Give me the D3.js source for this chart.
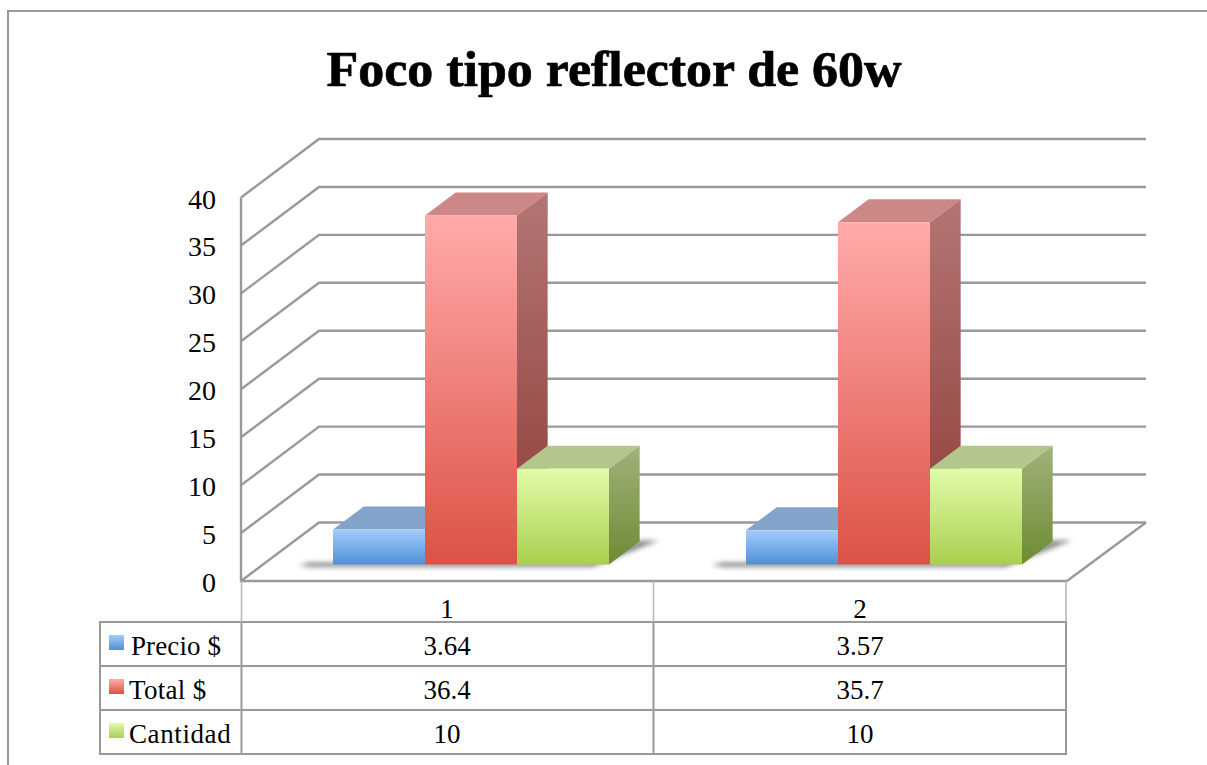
<!DOCTYPE html>
<html><head><meta charset="utf-8">
<script src="https://cdn.jsdelivr.net/npm/d3@7"></script>
<style>html,body{margin:0;padding:0;background:#fff}svg{display:block}text{font-family:"Liberation Serif",serif;fill:#000}</style>
</head><body><svg id="c" width="1207" height="765"></svg>
<script>
const title = "Foco tipo reflector de 60w";
const categories = ["1","2"];
const seriesNames = ["Precio $","Total $","Cantidad"];
const precio = [3.64,3.57];
const total = [36.4,35.7];
const cantidad = [10,10];
const tableText = [["3.64","3.57"],["36.4","35.7"],["10","10"]];
const yTicks = [0,5,10,15,20,25,30,35,40];
const front = ["#a4cbfc","#ffabaa","#e1fcaa"], frontB = ["#4f90d5","#dc5246","#a9cf4f"];
const topC = ["#84a3cb","#cc8886","#b3c68c"];
const sideT = ["#84a3cb","#b27675","#a0b27c"], sideB = ["#3f6f9e","#8f3b36","#6e8b33"];
const grid = "#999999";

const svg = d3.select("#c");
const defs = svg.append("defs");
const y = d3.scaleLinear().domain([0,40]).range([581,197.5]);
const x = d3.scaleBand().domain(categories).range([241,1067]);
const DX=78, DY=-58.5;
const P=(px,v,d)=>[px+DX*d, y(v)+DY*d];
const poly=(pts)=>d3.line()(pts)+"Z";
const vals=[precio,total,cantidad];

defs.append("filter").attr("id","blur").attr("x","-20%").attr("y","-50%").attr("width","140%").attr("height","200%")
  .append("feGaussianBlur").attr("stdDeviation",2.4);
seriesNames.forEach((s,i)=>{
  const g=defs.append("linearGradient").attr("id","f"+i).attr("x1",0).attr("x2",0).attr("y1",0).attr("y2",1);
  g.append("stop").attr("offset",0).attr("stop-color",front[i]);
  g.append("stop").attr("offset",1).attr("stop-color",frontB[i]);
  const h=defs.append("linearGradient").attr("id","s"+i).attr("x1",0).attr("x2",0).attr("y1",0).attr("y2",1);
  h.append("stop").attr("offset",0).attr("stop-color",sideT[i]);
  h.append("stop").attr("offset",1).attr("stop-color",sideB[i]);
});

// outer frame
svg.append("path").attr("fill","none").attr("stroke",grid).attr("stroke-width",2)
  .attr("d",d3.line()([[8,765],[8,11],[1207,11]]));

// title
svg.append("text").attr("x",614).attr("y",86).attr("text-anchor","middle").attr("font-weight","bold")
  .attr("font-size",50).attr("textLength",575).attr("lengthAdjust","spacingAndGlyphs")
  .attr("stroke","#000").attr("stroke-width",0.7).text(title);

// gridlines & walls
const gl=svg.append("g").attr("fill","none").attr("stroke",grid).attr("stroke-width",2.4);
yTicks.forEach(t=>{
  gl.append("path").attr("d",d3.line()([P(241,t,0),P(241,t,1),[1146,y(t)+DY]]));
});
gl.append("path").attr("d",d3.line()([P(241,40,0),P(241,0,0),P(1067,0,0),[1146,y(0)+DY]]));

// y labels
svg.append("g").selectAll("text").data(yTicks).join("text")
  .attr("x",216).attr("y",d=>y(d)+11).attr("text-anchor","end").attr("font-size",28).text(d=>d);

// bars
const d0=16.5/58.5, d1=39.5/58.5, bw=92, inset=70;
const bars=svg.append("g");
categories.forEach((c,ci)=>{
  const x0=x(c)+inset;
  const xa=x0, xb=x0+bw*3;
  const sb=P(xb,0,d1), se=P(xb,0,d0);
  bars.append("path").attr("filter","url(#blur)").attr("fill","#555").attr("opacity",.7)
    .attr("d",poly([[xa-13,se[1]+0.5],[xa,se[1]-2],[xb,se[1]-2],[sb[0],sb[1]-1],[sb[0]+19,sb[1]-1],[xb+5,se[1]+2.5],[xa,se[1]+2.5]]));
  [0,1,2].forEach(i=>{
    const l=x0+i*bw, r=l+bw, v=vals[i][ci];
    const g=bars.append("g");
    g.append("path").attr("fill",topC[i]).attr("d",poly([P(l,v,d0),P(r,v,d0),P(r,v,d1),P(l,v,d1)]));
    g.append("path").attr("fill",`url(#s${i})`).attr("d",poly([P(r,v,d0),P(r,v,d1),P(r,0,d1),P(r,0,d0)]));
  });
  [0,1,2].forEach(i=>{
    const l=x0+i*bw, r=l+bw, v=vals[i][ci];
    const a=P(l,v,d0), b=P(r,0,d0);
    bars.append("rect").attr("x",a[0]).attr("y",a[1]).attr("width",b[0]-a[0]).attr("height",b[1]-a[1]).attr("fill",`url(#f${i})`);
  });
});

// data table
const rows=[622,666,710,754];
const t=svg.append("g").attr("fill","none").attr("stroke",grid).attr("stroke-width",2);
rows.forEach(r=>t.append("line").attr("x1",99).attr("x2",1067).attr("y1",r).attr("y2",r));
t.append("line").attr("x1",100).attr("x2",100).attr("y1",622).attr("y2",754);
[241.5,653.5,1066].forEach(v=>{
  t.append("line").attr("x1",v).attr("x2",v).attr("y1",622).attr("y2",754);
  t.append("line").attr("x1",v).attr("x2",v).attr("y1",581).attr("y2",622).attr("stroke","#b5b5b5").attr("stroke-width",1.5);
});

const centers=[447,860];
categories.forEach((c,i)=>svg.append("text").attr("x",centers[i]).attr("y",618).attr("text-anchor","middle").attr("font-size",27).text(c));
tableText.forEach((row,ri)=>row.forEach((s,ci)=>{
  svg.append("text").attr("x",centers[ci]).attr("y",rows[ri]+33).attr("text-anchor","middle").attr("font-size",27).text(s);
}));
const legendSpacing=[0.1,0.3,0.6];
seriesNames.forEach((s,i)=>{
  svg.append("rect").attr("x",109).attr("y",rows[i]+13).attr("width",15).attr("height",15).attr("fill",`url(#f${i})`);
  svg.append("text").attr("x",i==0?131:129).attr("y",rows[i]+33).attr("font-size",27).attr("letter-spacing",legendSpacing[i]).text(s);
});
</script></body></html>
